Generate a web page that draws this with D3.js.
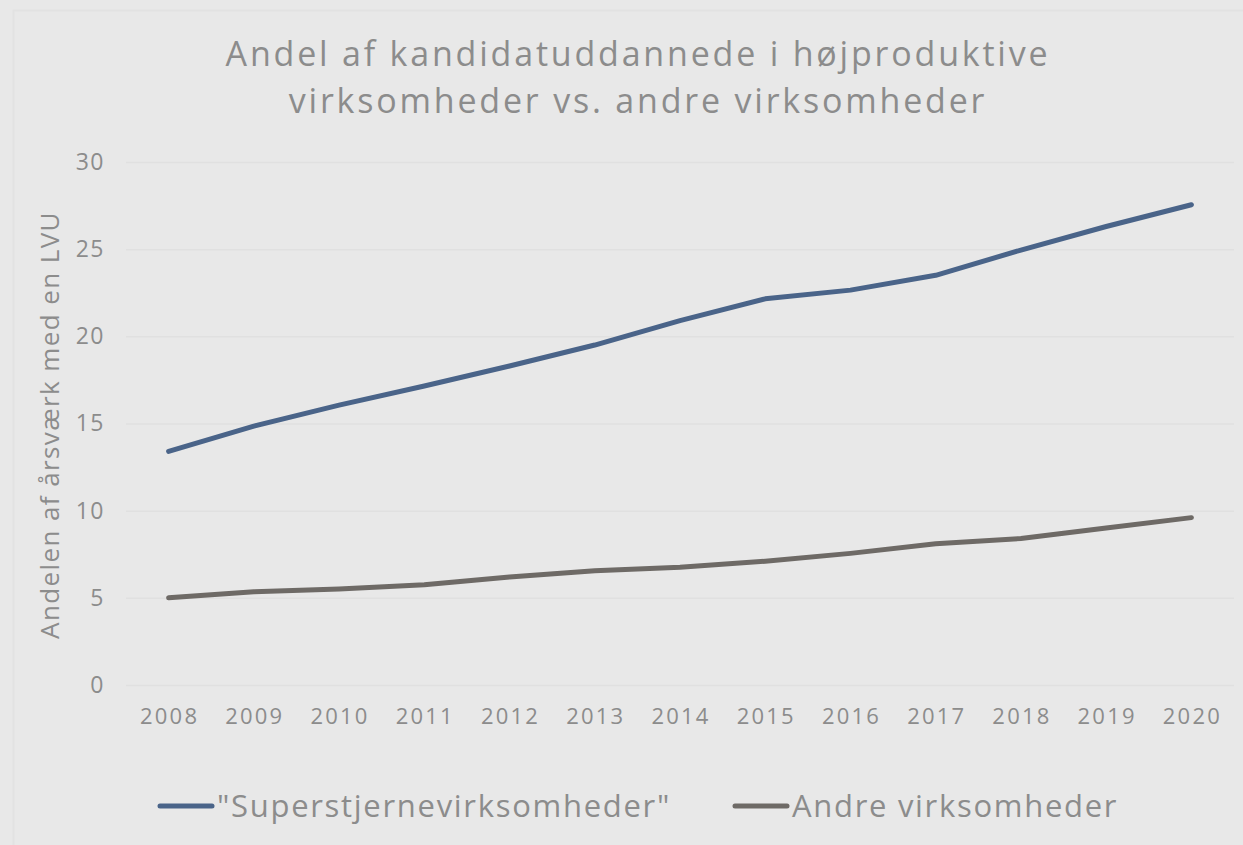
<!DOCTYPE html>
<html>
<head>
<meta charset="utf-8">
<script src="https://cdn.jsdelivr.net/npm/d3@7"></script>
<style>
  body { margin: 0; background: #e8e8e8; }
  text { font-family: "Open Sans", sans-serif; }
</style>
</head>
<body>
<svg width="1243" height="845"></svg>
<script>
var years = ["2008", "2009", "2010", "2011", "2012", "2013", "2014", "2015", "2016", "2017", "2018", "2019", "2020"];
var superstjerne = [13.4, 14.85, 16.05, 17.15, 18.3, 19.5, 20.9, 22.15, 22.65, 23.5, 24.95, 26.3, 27.55];
var andre = [5.0, 5.35, 5.5, 5.75, 6.2, 6.55, 6.75, 7.1, 7.55, 8.1, 8.4, 9.0, 9.6];
var yTicks = [0, 5, 10, 15, 20, 25, 30];
var seriesNames = ["\"Superstjernevirksomheder\"", "Andre virksomheder"];
var seriesColors = ["#4a6489", "#6e6a66"];
var titleLines = ["Andel af kandidatuddannede i højproduktive", "virksomheder vs. andre virksomheder"];

var series = [superstjerne, andre];

var svg = d3.select("svg"),
    margin = {top: 162, right: 9, bottom: 160, left: 126},
    width = +svg.attr("width") - margin.left - margin.right,
    height = +svg.attr("height") - margin.top - margin.bottom;

// background + faint frame
svg.append("rect").attr("width", 1243).attr("height", 845).attr("fill", "#e8e8e8");
svg.append("rect")
    .attr("x", 13.5).attr("y", 10.5)
    .attr("width", 1243).attr("height", 845)
    .attr("fill", "none").attr("stroke", "#e2e2e2").attr("stroke-width", 2);

var g = svg.append("g").attr("transform", "translate(" + margin.left + "," + margin.top + ")");

var x = d3.scaleBand().domain(years).range([0, width]);
var y = d3.scaleLinear().domain([0, 30]).range([height, 0]);

// gridlines
g.append("g")
    .attr("class", "grid")
    .call(d3.axisLeft(y).tickValues(yTicks).tickSize(-width).tickFormat(""))
    .call(function(s) {
      s.select(".domain").remove();
      s.selectAll("line").attr("stroke", "#e0e0e0").attr("stroke-width", 1.5);
    });

// y axis labels
g.append("g")
    .call(d3.axisLeft(y).tickValues(yTicks).tickSize(0).tickPadding(21))
    .call(function(s) {
      s.select(".domain").remove();
      s.selectAll("text").attr("fill", "#8c8c8c").style("font-size", "23px")
        .style("letter-spacing", "1.5px")
        .style("font-family", "'Open Sans', sans-serif");
    });

// x axis labels
g.append("g")
    .attr("transform", "translate(0," + height + ")")
    .call(d3.axisBottom(x).tickSize(0).tickPadding(23))
    .call(function(s) {
      s.select(".domain").remove();
      s.selectAll("text").attr("fill", "#8c8c8c").style("font-size", "22px")
        .style("letter-spacing", "2.2px")
        .attr("dx", "1px")
        .style("font-family", "'Open Sans', sans-serif");
    });

var line = d3.line()
    .x(function(d, i) { return x(years[i]) + x.bandwidth() / 2; })
    .y(function(d) { return y(d); });

g.selectAll(".series")
  .data(series)
  .enter().append("path")
    .attr("class", "series")
    .attr("fill", "none")
    .attr("stroke", function(d, i) { return seriesColors[i]; })
    .attr("stroke-width", 5)
    .attr("stroke-linecap", "round")
    .attr("stroke-linejoin", "round")
    .attr("d", line);

// title, two separate lines
svg.selectAll(".title")
  .data(titleLines)
  .enter().append("text")
    .attr("class", "title")
    .attr("x", 638)
    .attr("y", function(d, i) { return 66 + i * 47; })
    .attr("text-anchor", "middle")
    .attr("fill", "#8c8c8c")
    .style("font-size", "34px")
    .style("letter-spacing", "2.8px")
    .text(function(d) { return d; });

// y axis title
svg.append("text")
    .attr("transform", "translate(59,425) rotate(-90)")
    .attr("text-anchor", "middle")
    .attr("fill", "#8c8c8c")
    .style("font-size", "26px")
    .style("letter-spacing", "1.4px")
    .text("Andelen af årsværk med en LVU");

// legend
var legendX = [160, 735];
var legend = svg.selectAll(".legend")
  .data(seriesNames)
  .enter().append("g")
    .attr("class", "legend")
    .attr("transform", function(d, i) { return "translate(" + legendX[i] + ",806)"; });

legend.append("line")
    .attr("x1", 0).attr("x2", 52)
    .attr("stroke", function(d, i) { return seriesColors[i]; })
    .attr("stroke-width", 5)
    .attr("stroke-linecap", "round");

legend.append("text")
    .attr("x", 57)
    .attr("dy", "0.35em")
    .attr("fill", "#8c8c8c")
    .style("font-size", "31px")
    .style("letter-spacing", "1.7px")
    .text(function(d) { return d; });
</script>
</body>
</html>
